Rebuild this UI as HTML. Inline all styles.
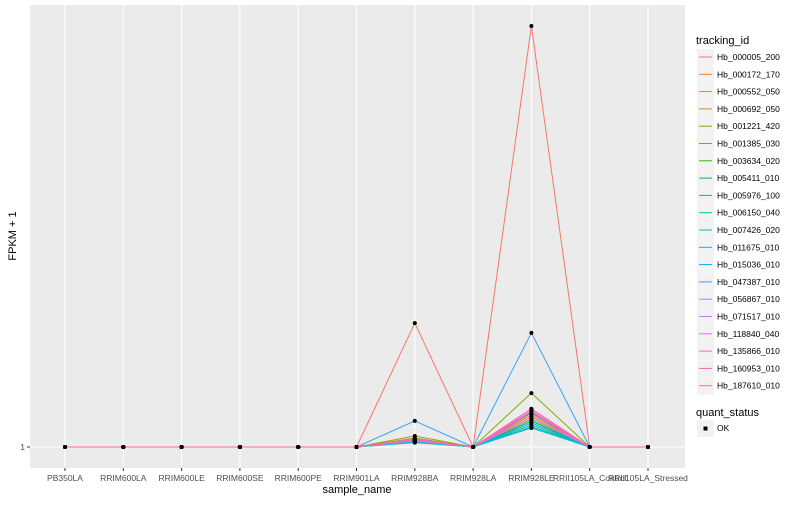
<!DOCTYPE html>
<html><head><meta charset="utf-8"><style>
body{margin:0;background:#fff;font-family:"Liberation Sans",sans-serif;}
svg text{font-family:"Liberation Sans",sans-serif;}
</style></head><body>
<svg id="chart" width="800" height="500" xmlns="http://www.w3.org/2000/svg">
<rect x="0" y="0" width="800" height="500" fill="#fff"/>
<rect x="30" y="5" width="655" height="463" fill="#ebebeb"/>
<g id="grid"></g><g id="lines"></g><g id="pts"></g><g id="axes"></g><g id="legend"></g>
</svg>
<script>
const categories=["PB350LA","RRIM600LA","RRIM600LE","RRIM600SE","RRIM600PE","RRIM901LA","RRIM928BA","RRIM928LA","RRIM928LE","RRII105LA_Control","RRII105LA_Stressed"];
const trackingIds=["Hb_000005_200","Hb_000172_170","Hb_000552_050","Hb_000692_050","Hb_001221_420","Hb_001385_030","Hb_003634_020","Hb_005411_010","Hb_005976_100","Hb_006150_040","Hb_007426_020","Hb_011675_010","Hb_015036_010","Hb_047387_010","Hb_056867_010","Hb_071517_010","Hb_118840_040","Hb_135866_010","Hb_160953_010","Hb_187610_010"];
const colors=["#F8766D","#EA8331","#D89000","#C09B00","#A3A500","#7CAE00","#39B600","#00BB4E","#00BF7D","#00C1A3","#00BFC4","#00BAE0","#00B0F6","#35A2FF","#9590FF","#C77CFF","#E76BF3","#FA62DB","#FF62BC","#FF6C91"];
// values at RRIM928BA and RRIM928LE (all other samples = 1)
const baValues=[7.18,1.35,1.3,1.28,1.45,1.55,1.4,1.3,1.25,1.25,1.22,1.25,1.3,2.3,1.3,1.35,1.4,1.38,1.42,1.35];
const leValues=[22.0,2.5,2.4,2.3,2.9,3.69,2.7,2.3,2.1,2.0,1.95,2.0,2.2,6.69,2.4,2.6,2.8,2.75,2.9,2.6];
const yTicks=[1];
const NS="http://www.w3.org/2000/svg";
const x0=65,dx=58.3;
function xs(i){return x0+i*dx;}
function ys(v){return 447-(v-1)*20.05;}
function mk(tag,attrs,parent){const e=document.createElementNS(NS,tag);for(const k in attrs)e.setAttribute(k,attrs[k]);document.getElementById(parent).appendChild(e);return e;}
function val(s,i){if(i===6)return baValues[s];if(i===8)return leValues[s];return 1;}
categories.forEach((c,i)=>{
  const g=mk("line",{x1:xs(i),x2:xs(i),y1:5,y2:468,stroke:"#fff","stroke-width":1.1},"grid");
  
  
  const t=mk("line",{x1:xs(i),x2:xs(i),y1:468,y2:471,stroke:"#333","stroke-width":1},"axes");
  
  
  const l=mk("text",{x:xs(i),y:481,"text-anchor":"middle","font-size":8.5,fill:"#4d4d4d"},"axes");
  l.textContent=c;
  
  
});
yTicks.forEach(v=>{
  const g=mk("line",{x1:30,x2:685,y1:ys(v),y2:ys(v),stroke:"#fff","stroke-width":1.1},"grid");
  
  
  const t=mk("line",{x1:27,x2:30,y1:ys(v),y2:ys(v),stroke:"#333"},"axes");
  
  
  const l=mk("text",{x:25,y:ys(v)+3,"text-anchor":"end","font-size":8.5,fill:"#4d4d4d"},"axes");
  l.textContent=String(v);
  
  
});
trackingIds.forEach((id,s)=>{
  const pts=categories.map((c,i)=>xs(i)+","+ys(val(s,i))).join(" ");
  const p=mk("polyline",{points:pts,fill:"none",stroke:colors[s],"stroke-width":1},"lines");
  
  
  categories.forEach((c,i)=>{
    const d=mk("circle",{cx:xs(i),cy:ys(val(s,i)),r:2,fill:"#000"},"pts");
    
    
  });
});
const xt=mk("text",{x:357,y:493,"text-anchor":"middle","font-size":11,fill:"#000"},"axes");
xt.textContent="sample_name";


const yt=mk("text",{x:16,y:236,"text-anchor":"middle","font-size":11,fill:"#000",transform:"rotate(-90 16 236)"},"axes");
yt.textContent="FPKM + 1";


const lt=mk("text",{x:696,y:44,"font-size":11,fill:"#000"},"legend");
lt.textContent="tracking_id";


trackingIds.forEach((id,s)=>{
  const y=57+s*17.3;
  const b=mk("rect",{x:697,y:y-8,width:17,height:17,fill:"#f2f2f2"},"legend");
  
  
  const ln=mk("line",{x1:699,x2:712,y1:y,y2:y,stroke:colors[s],"stroke-width":1},"legend");
  
  
  const t=mk("text",{x:717,y:y+3,"font-size":8.5,fill:"#000"},"legend");
  t.textContent=id;
  
  
});
const qt=mk("text",{x:696,y:416,"font-size":11,fill:"#000"},"legend");
qt.textContent="quant_status";


const qb=mk("rect",{x:697,y:420,width:17,height:17,fill:"#f2f2f2"},"legend");


const qd=mk("rect",{x:703.5,y:426.5,width:4,height:4,fill:"#000"},"legend");


const qtxt=mk("text",{x:717,y:431,"font-size":8.5,fill:"#000"},"legend");
qtxt.textContent="OK";


</script>
</body></html>
